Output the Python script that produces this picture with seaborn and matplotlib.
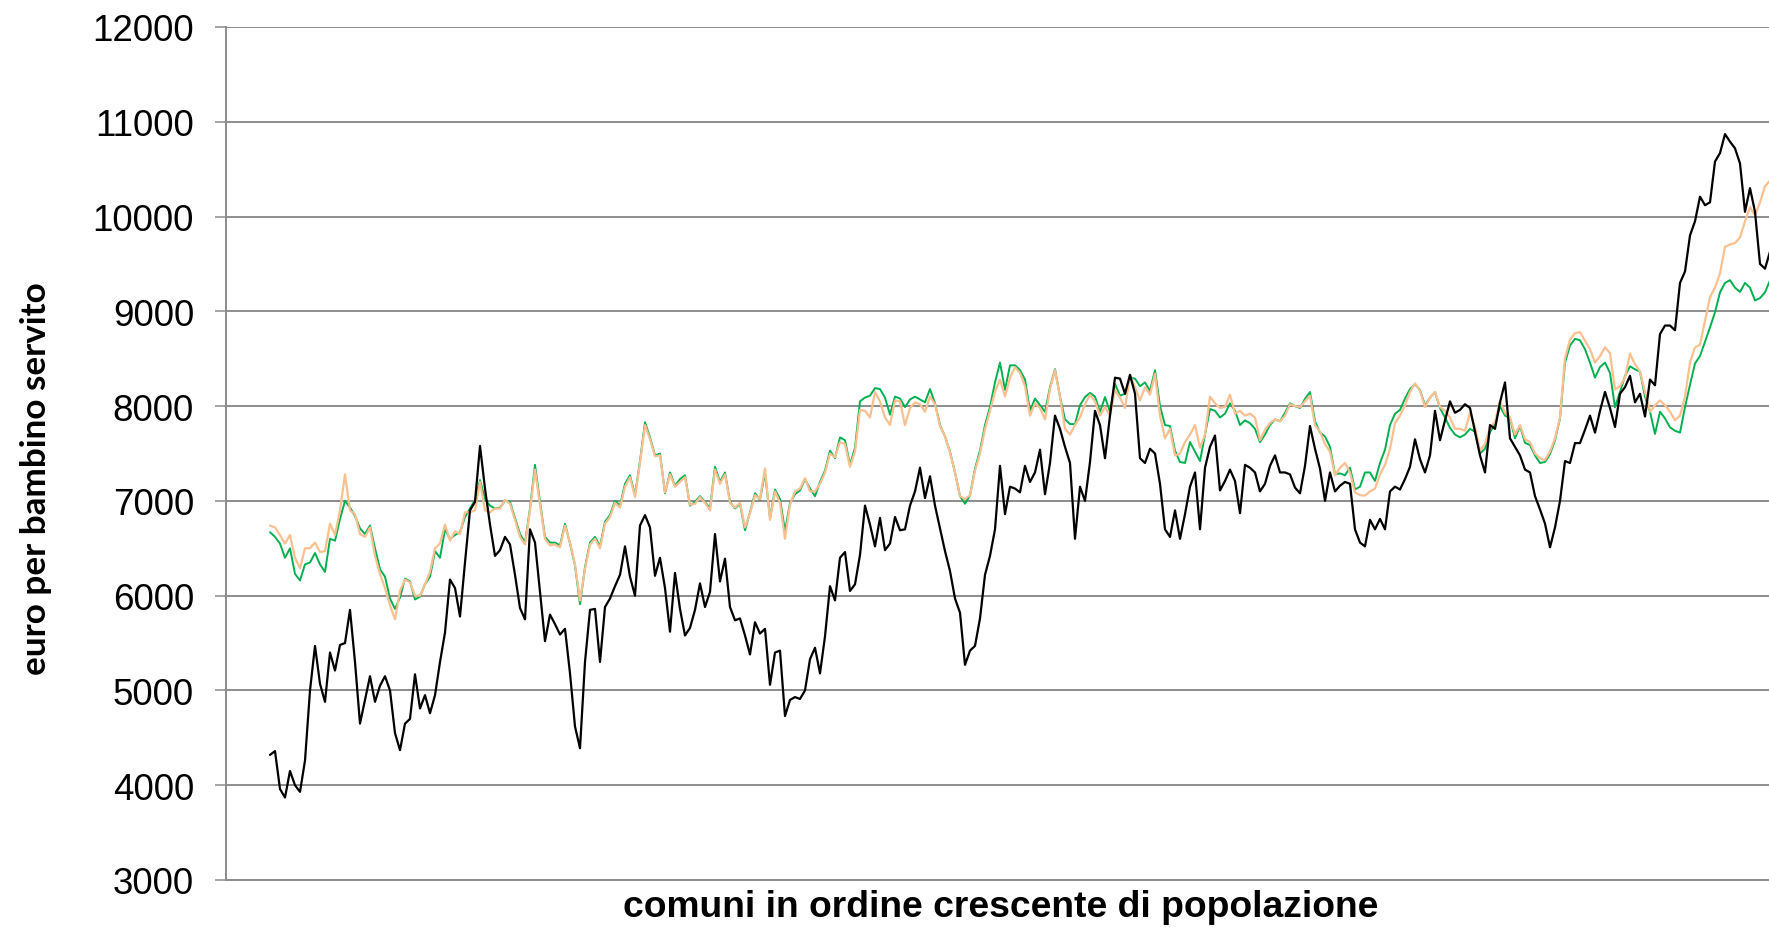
"""Spesa per bambino servito nei comuni, ordinati per popolazione."""

import matplotlib

matplotlib.use("Agg")
import matplotlib.pyplot as plt
import numpy as np
import pandas as pd
import seaborn as sns


SERIE_NERA = [
    4320, 4360, 3960, 3870, 4150, 4000, 3930, 4260, 5000, 5470, 5070, 4880, 5400, 5210, 5480, 5500,
    5850, 5300, 4650, 4900, 5150, 4880, 5050, 5150, 5000, 4550, 4370, 4650, 4700, 5170, 4810, 4950,
    4760, 4950, 5300, 5610, 6170, 6080, 5780, 6350, 6900, 6990, 7580, 7130, 6750, 6420, 6480,
    6620, 6540, 6220, 5870, 5750, 6700, 6560, 6040, 5520, 5800, 5700, 5590, 5650, 5180, 4620, 4390,
    5300, 5850, 5860, 5300, 5880, 5970, 6100, 6220, 6520, 6200, 6000, 6740, 6850, 6720, 6210, 6400,
    6080, 5620, 6240, 5860, 5580, 5660, 5850, 6130, 5880, 6040, 6650, 6150, 6390, 5880, 5740, 5760,
    5580, 5380, 5720, 5600,
    5650, 5060, 5400, 5420, 4730, 4900, 4930, 4910, 5000, 5330, 5450, 5180, 5570, 6100, 5950, 6400,
    6460, 6050, 6120, 6430, 6950, 6750, 6520, 6820, 6480, 6550, 6830, 6690, 6700, 6950, 7100, 7350,
    7030, 7260, 6950, 6710, 6470, 6260, 5970, 5820, 5270, 5420, 5470, 5760, 6220, 6420, 6700, 7370,
    6860, 7150, 7130, 7090, 7370, 7200, 7300, 7540, 7070, 7400, 7900, 7760, 7570, 7400, 6600, 7150,
    7000, 7410, 7950, 7800, 7450, 7900, 8300, 8290, 8130, 8330, 8130, 7450, 7400, 7550, 7500, 7180,
    6700, 6620, 6900, 6600, 6860, 7150, 7300, 6700, 7350, 7570, 7690, 7110, 7210, 7330, 7210, 6870,
    7380, 7350, 7300, 7100, 7180, 7370, 7480, 7300,
    7300, 7280, 7140, 7080, 7370, 7790, 7550, 7340, 7000, 7300, 7100, 7160, 7200, 7180, 6700, 6560,
    6520, 6800, 6700, 6810, 6700, 7100, 7150, 7120, 7230, 7360, 7650, 7440, 7300, 7480, 7950, 7640,
    7850, 8050, 7930, 7960, 8020, 7980, 7730, 7480, 7300, 7800, 7760,
    8040, 8250, 7660, 7570, 7480, 7330, 7300, 7050, 6910, 6760, 6510, 6720, 7000, 7420, 7400, 7610,
    7610, 7750, 7900, 7720, 7950, 8150, 7980, 7780, 8130, 8200, 8320, 8040, 8130, 7890, 8280, 8220,
    8760, 8850, 8850, 8800, 9300, 9420, 9800, 9950, 10210, 10120, 10150, 10580, 10670, 10870, 10790,
    10720, 10560, 10050, 10300, 10050, 9500, 9450, 9630,
]

SERIE_VERDE = [
    6670, 6620, 6550, 6400, 6500, 6230, 6160, 6330, 6350, 6450, 6330, 6250, 6600, 6580, 6810, 7000,
    6930, 6840, 6710, 6650, 6740, 6500, 6280, 6200, 5970, 5860, 5980, 6180, 6150, 5960, 5990, 6120,
    6200, 6470, 6400, 6700, 6600, 6640, 6670, 6830, 6920, 7010, 7220, 7020, 6950, 6920, 6930,
    7000, 6990, 6820, 6650, 6560, 6920, 7380, 6990, 6620, 6560, 6560, 6530, 6760, 6550, 6320, 5910,
    6300, 6560, 6620, 6520, 6780, 6850, 7000, 6950, 7180, 7270, 7060, 7420, 7830, 7670, 7480, 7500,
    7080, 7300, 7160, 7230, 7270, 6950, 6990, 7050, 6990, 6920, 7360, 7200, 7300, 6990, 6920, 6970,
    6690, 6880, 7080, 7010,
    7300, 6820, 7120, 7020, 6680, 6980, 7070, 7110, 7230, 7130, 7050, 7200, 7320, 7530, 7450, 7670,
    7640, 7380, 7560, 8050, 8090, 8110, 8190, 8180, 8090, 7910, 8100, 8080, 7990, 8070, 8100, 8070,
    8040, 8180, 8030, 7800, 7680, 7520, 7300, 7050, 6970, 7060, 7340, 7530, 7800, 7990, 8250, 8460,
    8170, 8430, 8430, 8380, 8280, 7950, 8080, 8010, 7940, 8200, 8390, 8100, 7860, 7810, 7810, 8010,
    8095, 8140, 8100, 7940, 8095, 7940, 8236, 8110, 8130, 8300, 8290, 8210, 8250, 8160, 8380, 8000,
    7800, 7790, 7530, 7410, 7400, 7620, 7520, 7420, 7700, 7970, 7950, 7880, 7920, 8030, 7950, 7800,
    7850, 7820, 7760, 7620, 7700, 7800, 7860, 7840,
    7930, 8030, 8000, 7980, 8077, 8148, 7840, 7720, 7680, 7570, 7280, 7290, 7270, 7350, 7120, 7150,
    7300, 7300, 7210, 7400, 7540, 7800, 7920, 7960, 8080, 8180, 8230, 8170, 8007, 8090, 8148, 7980,
    7880, 7770, 7700, 7670, 7700, 7760, 7730, 7500, 7550, 7725, 7813,
    8000, 7900, 7870, 7660, 7790, 7612, 7590, 7480, 7400, 7410, 7494, 7640, 7871, 8459, 8640, 8710,
    8694, 8600, 8459, 8300, 8412, 8459, 8350, 7988, 8150, 8318, 8420, 8388, 8365, 8100, 7941, 7706,
    7940, 7870, 7776, 7740, 7720, 7990, 8224, 8450, 8529, 8680, 8830, 8990, 9200, 9300, 9329, 9250,
    9204, 9300, 9250, 9115, 9140, 9200, 9327,
]

SERIE_ARANCIO = [
    6740, 6720, 6640, 6550, 6640, 6400, 6290, 6500, 6500, 6560, 6460, 6470, 6760, 6640, 6900, 7280,
    6900, 6860, 6650, 6620, 6720, 6420, 6230, 6080, 5900, 5750, 6050, 6170, 6140, 6000, 6000, 6120,
    6250, 6500, 6550, 6750, 6580, 6680, 6650, 6880, 6880, 6900, 7200, 6900, 6880, 6920, 6920,
    7010, 6970, 6800, 6620, 6540, 6900, 7330, 6960, 6600, 6530, 6540, 6510, 6740, 6560, 6330, 5950,
    6280, 6540, 6600, 6500, 6760, 6830, 6980, 6930, 7150, 7250, 7040, 7400, 7800, 7650, 7470, 7480,
    7090, 7280, 7150, 7200, 7250, 6960, 6970, 7040, 6980, 6900, 7330, 7180, 7280, 6980, 6930, 6980,
    6720, 6870, 7060, 7020,
    7340, 6800, 7100, 6980, 6600, 6960, 7100, 7130, 7240, 7100, 7100, 7180, 7300, 7500, 7460, 7620,
    7600, 7360, 7520, 7960, 7950, 7880, 8150, 8050, 7880, 7800, 8060, 8050, 7800, 7980, 8040, 8020,
    7940, 8100, 8020, 7790, 7680, 7510, 7300, 7050, 7020, 7060, 7320, 7500, 7760, 7950, 8150, 8280,
    8100, 8300, 8410, 8350, 8210, 7900, 8030, 7980, 7860, 8180, 8380, 8100, 7760, 7700, 7800, 7880,
    8020, 8120, 8050, 7900, 7990, 7900, 8170, 8090, 7980, 8330, 8200, 8060, 8200, 8120, 8340, 7900,
    7660, 7760, 7480, 7500, 7620, 7700, 7800, 7560, 7700, 8100, 8030, 7980, 7990, 8120, 7920, 7950,
    7900, 7920, 7880, 7640, 7750, 7820, 7860, 7840,
    7900, 8020, 8000, 7990, 8050, 8110, 7800, 7730, 7600, 7520, 7270, 7350, 7400, 7300, 7090, 7060,
    7056, 7100, 7130, 7280, 7380, 7550, 7820, 7900, 8010, 8150, 8240, 8160, 7990, 8090, 8150, 7990,
    7950, 7880, 7760, 7760, 7740, 7930, 7780, 7530, 7600, 7770, 7830,
    8050, 7930, 7880, 7700, 7800, 7650, 7620, 7500, 7450, 7430, 7520, 7660, 7880, 8506, 8700, 8770,
    8780, 8690, 8600, 8459, 8529, 8620, 8560, 8176, 8210, 8300, 8553, 8440, 8365, 8150, 7941, 8010,
    8059, 8010, 7941, 7850, 7900, 8100, 8459, 8620, 8647, 8900, 9150, 9250, 9400, 9680, 9706, 9720,
    9780, 9950, 10100, 10010, 10150, 10320, 10380,
]

Y_TICKS = list(range(3000, 12001, 1000))
X_LABEL = "comuni in ordine crescente di popolazione"
Y_LABEL = "euro per bambino servito"

GRIGIO = "#8c8c8c"


def fit_text(fig, txt, target_px, horizontal=True):
    # ritocca la dimensione del testo finché la sua lunghezza non combacia
    renderer = fig.canvas.get_renderer()
    for _ in range(3):
        bb = txt.get_window_extent(renderer=renderer)
        size = bb.width if horizontal else bb.height
        txt.set_fontsize(txt.get_fontsize() * target_px / size)


def main() -> None:
    sns.set_style("white")
    plt.rcParams["font.family"] = ["Liberation Sans", "DejaVu Sans"]
    plt.rcParams["text.color"] = "black"

    df = pd.DataFrame(
        {
            "comune": np.arange(len(SERIE_NERA)),
            "nera": SERIE_NERA,
            "verde": SERIE_VERDE,
            "arancio": SERIE_ARANCIO,
        }
    )

    W, H = 1769, 928
    fig = plt.figure(figsize=(W / 100, H / 100), dpi=100)
    ax = fig.add_axes([226 / W, 47 / H, (W - 226) / W, 853 / H])

    sns.lineplot(data=df, x="comune", y="verde", color="#00b050", linewidth=1.4, ax=ax, zorder=3)
    sns.lineplot(data=df, x="comune", y="arancio", color="#fac090", linewidth=1.6, ax=ax, zorder=4)
    sns.lineplot(data=df, x="comune", y="nera", color="#000000", linewidth=1.6, ax=ax, zorder=5)

    ax.set_xlim(-8.8, 299.8)
    ax.set_ylim(3000, 12000)
    ax.set_yticks(Y_TICKS)
    ax.set_yticklabels([str(t) for t in Y_TICKS], fontsize=26.5, color="black")
    ax.set_xticks([])
    ax.set_xlabel("")
    ax.set_ylabel("")

    ax.yaxis.grid(True, color=GRIGIO, linewidth=1.4)
    ax.set_axisbelow(True)
    ax.tick_params(axis="y", direction="out", length=8, width=1.1, color=GRIGIO,
                   pad=15, left=True, labelcolor="black")
    for side in ("top", "right"):
        ax.spines[side].set_visible(False)
    for side in ("left", "bottom"):
        ax.spines[side].set_color(GRIGIO)
        ax.spines[side].set_linewidth(1.4)

    xl = fig.text(1001 / W, 1 - 908 / H, X_LABEL, ha="center", va="center",
                  fontsize=26.5, fontweight="bold", color="black")
    yl = fig.text(36 / W, 1 - 479 / H, Y_LABEL, ha="center", va="center", rotation=90,
                  fontsize=23, fontweight="bold", color="black",
                  family=["Lato", "Liberation Sans", "DejaVu Sans"])
    fig.canvas.draw()
    fit_text(fig, xl, 755, horizontal=True)
    fit_text(fig, yl, 394, horizontal=False)

    fig.savefig("out.png", dpi=100, facecolor="white")
    plt.close(fig)


if __name__ == "__main__":
    main()
